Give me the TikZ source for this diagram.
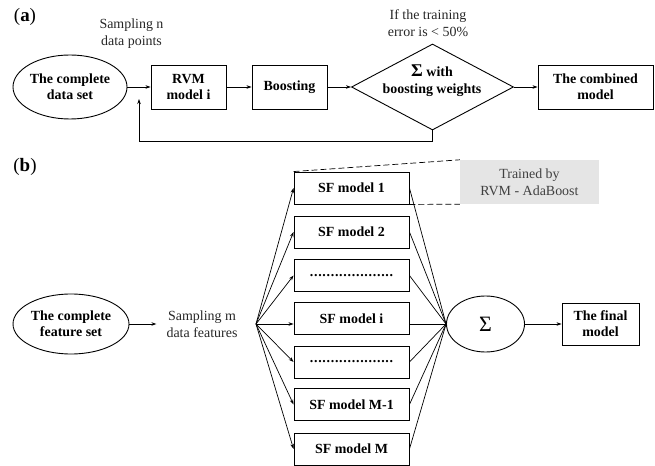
\documentclass[tikz,border=0pt]{standalone}
\usepackage{fontspec}
\setmainfont{Liberation Serif}
\usetikzlibrary{shapes.geometric,arrows.meta}
\begin{document}
\begin{tikzpicture}[x=1bp,y=-1bp,
  box/.style={draw,line width=0.9bp,font=\fontsize{14}{16}\selectfont\bfseries,align=center,inner sep=0pt},
  sfbox/.style={box,minimum width=115bp,minimum height=32bp},
  oval/.style={ellipse,draw,line width=0.9bp,inner sep=0pt,font=\fontsize{14}{16}\selectfont\bfseries,align=center},
  arr/.style={line width=0.7bp,-{Stealth[length=5bp,width=3.5bp]}},
  ln/.style={line width=0.7bp},
  lbl/.style={font=\fontsize{14}{17}\selectfont,align=center,text=black!85},
  panel/.style={font=\fontsize{19}{20}\selectfont}]
\useasboundingbox (0,0) rectangle (655,466);

% ---------------- panel (a)
\node[panel] (la) at (25,17) {(\textbf{a})};
\node[oval,minimum width=114bp,minimum height=64bp] (ea) at (70,87) {The complete\\data set};
\node[box,minimum width=75bp,minimum height=44bp] (rvm) at (188.5,87) {RVM\\model i};
\node[box,minimum width=75bp,minimum height=44bp] (boost) at (289.5,87) {Boosting};
\node[diamond,draw,line width=0.9bp,minimum width=162bp,minimum height=86bp,inner sep=0pt] (dia) at (432.5,87) {};
\node[font=\fontsize{14}{17}\selectfont\bfseries,align=center] (diat) at (432,81) {{\fontsize{18}{17}\selectfont Σ} with\\boosting weights};
\node[box,minimum width=115bp,minimum height=44bp] (comb) at (595.5,87) {The combined\\model};
\node[lbl] (sn) at (131.5,33.5) {Sampling n\\data points};
\node[lbl] (ite) at (428,23.5) {If the training\\error is < 50\%};

\draw[arr] (ea) -- (rvm);
\draw[arr] (rvm) -- (boost);
\draw[arr] (boost) -- (dia);
\draw[arr] (dia) -- (comb);
\coordinate (fb) at (139,99);
\draw[arr] (dia.south) -- ++(0,11) -| (fb);

% ---------------- panel (b)
\node[panel] (lb) at (25,167) {(\textbf{b})};
\node[oval,minimum width=116bp,minimum height=60bp] (eb) at (71,324) {The complete\\feature set};
\node[lbl,inner xsep=10bp] (smp) at (202,324) {Sampling m\\data features};
\draw[arr] (eb) -- (smp);

\node[sfbox] (b1) at (351.5,188) {SF model 1};
\node[sfbox] (b2) at (351.5,232) {SF model 2};
\node[sfbox] (b3) at (351.5,275.5) {\hbox to 84bp{\leaders\hbox to 4.2bp{\hss.\hss}\hfill}};
\node[sfbox] (b4) at (351.5,318.5) {SF model i};
\node[sfbox] (b5) at (351.5,362) {\hbox to 84bp{\leaders\hbox to 4.2bp{\hss.\hss}\hfill}};
\node[sfbox] (b6) at (351.5,404.5) {SF model M-1};
\node[sfbox] (b7) at (351.5,449) {SF model M};

\node[fill=black!10,minimum width=139bp,minimum height=44bp,inner sep=0pt,font=\fontsize{14}{17}\selectfont,text=black!75,align=center] (tr) at (529.5,182) {Trained by\\RVM - AdaBoost};
\draw[ln,dash pattern=on 6bp off 3bp] (b1.north west) -- (tr.north west);
\draw[ln,dash pattern=on 6bp off 3bp] (b1.south east) -- (tr.south west);

\node[ellipse,draw,line width=0.9bp,minimum width=78bp,minimum height=56bp,inner sep=0pt,font=\fontsize{22}{22}\selectfont] (sig) at (485.5,324) {Σ};
\node[box,minimum width=77bp,minimum height=42bp] (fin) at (600.5,324) {The final\\model};
\draw[arr] (sig) -- (fin);

\coordinate (fan) at (256,324);
\foreach \b in {b1,b2,b3,b5,b6,b7}{
  \draw[arr] (fan) -- (\b.west);
  \draw[ln] (\b.east) -- (sig.west);
}
\draw[arr] (fan) -- (fan -| b4.west);
\draw[ln] (b4.east |- sig.west) -- (sig.west);
\end{tikzpicture}
\end{document}
